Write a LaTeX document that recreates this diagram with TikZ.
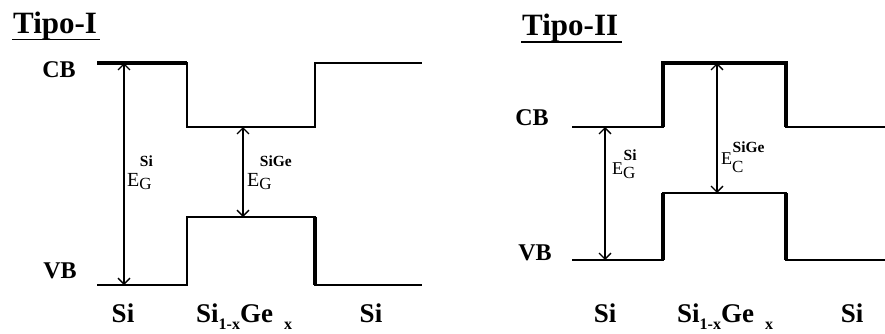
\documentclass[tikz,border=0pt]{standalone}
\usepackage{fontspec}
\setmainfont{Liberation Serif}
\usetikzlibrary{arrows.meta}
\newcommand{\gaplabel}[5]{% #1 sub, #2 sup, #3 raise sup, #4 lower sub, #5 E size
  {\fontsize{#5}{#5}\selectfont E}\rlap{\kern0.5pt\raisebox{#3}{\fontsize{15.5}{15.5}\selectfont\bfseries #2}}\raisebox{-#4}{\fontsize{17}{17}\selectfont #1}}
\newcommand{\sigelabel}{Si\raisebox{-7pt}{\fontsize{16}{16}\selectfont 1-x}Ge\hspace{11pt}\raisebox{-7pt}{\fontsize{16}{16}\selectfont x}}
\begin{document}
\begin{tikzpicture}[x=1pt,y=-1pt,
  band/.style={line width=2.8pt, line join=miter},
  thickband/.style={line width=4pt},
  gap/.style={line width=1.3pt, {Straight Barb[length=6pt,width=12pt]}-{Straight Barb[length=6pt,width=12pt]}},
  title/.style={font=\fontsize{31}{31}\selectfont\bfseries, inner sep=0pt, anchor=base west},
  uline/.style={line width=1.6pt},
  lvl/.style={font=\fontsize{24}{24}\selectfont\bfseries, inner sep=0pt},
  mat/.style={font=\fontsize{27}{27}\selectfont\bfseries, inner sep=0pt, anchor=base},
  gaplbl/.style={inner sep=0pt, anchor=base west}]
\useasboundingbox (0,0) rectangle (885,333);

% ---------------- Tipo-I ----------------
\node[title] (t1) at (13,33) {Tipo-I};
\coordinate (u1a) at (12,39.5);
\coordinate (u1b) at (100,39.5);
\draw[uline] (u1a) -- (u1b);

\node[lvl] (cb1) at (59,70) {CB};
\node[lvl] (vb1) at (60,271) {VB};

\draw[band] (97,63) -- (187,63) -- (187,127) -- (315,127) -- (315,63) -- (422,63);
\draw[thickband] (97,63) -- (187,63);
\draw[band] (97,285) -- (187,285) -- (187,217) -- (315,217) -- (315,285) -- (422,285);
\draw[line width=3.6pt] (315,217) -- (315,285);

\coordinate (a1t) at (124,63);
\coordinate (a1b) at (124,285);
\coordinate (a2t) at (243,127);
\coordinate (a2b) at (243,217);
\draw[gap] (a1t) -- (a1b);
\draw[gap] (a2t) -- (a2b);

\node[gaplbl] (eg1) at (127,186) {\gaplabel{G}{Si}{20pt}{3pt}{20}};
\node[gaplbl] (eg2) at (247,186) {\gaplabel{G}{SiGe}{20pt}{3pt}{20}};

\node[mat] (s1) at (123,322) {Si};
\node[mat, anchor=base west] (sg1) at (196,322) {\sigelabel};
\node[mat] (s2) at (371,322) {Si};

% ---------------- Tipo-II ----------------
\node[title] (t2) at (522,35) {Tipo-II};
\coordinate (u2a) at (521,42);
\coordinate (u2b) at (622,42);
\draw[uline] (u2a) -- (u2b);

\node[lvl] (cb2) at (532,118) {CB};
\node[lvl] (vb2) at (535,253) {VB};

\draw[band] (572,127) -- (663,127) -- (663,63) -- (786,63) -- (786,127) -- (885,127);
\draw[thickband] (663,127) -- (663,63) -- (786,63) -- (786,127);
\draw[band] (572,260) -- (663,260) -- (663,193) -- (786,193) -- (786,260) -- (885,260);
\draw[line width=3.6pt] (663,260) -- (663,193);
\draw[line width=3.6pt] (786,193) -- (786,260);

\coordinate (a3t) at (605,127);
\coordinate (a3b) at (605,260);
\coordinate (a4t) at (717,63);
\coordinate (a4b) at (717,193);
\draw[gap] (a3t) -- (a3b);
\draw[gap] (a4t) -- (a4b);

\node[gaplbl] (eg3) at (612,174) {\gaplabel{G}{Si}{14pt}{4pt}{18}};
\node[gaplbl] (eg4) at (721,164) {\gaplabel{C}{SiGe}{12pt}{8pt}{18}};

\node[mat] (s3) at (605,322) {Si};
\node[mat, anchor=base west] (sg2) at (677,322) {\sigelabel};
\node[mat] (s4) at (852,322) {Si};
\end{tikzpicture}
\end{document}
